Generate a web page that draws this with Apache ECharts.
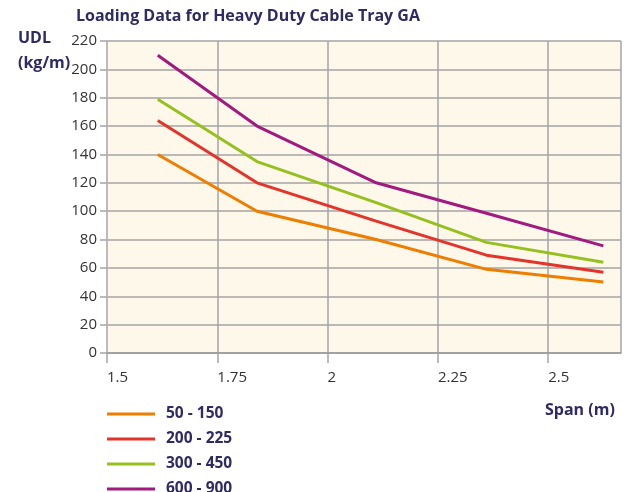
<!DOCTYPE html>
<html>
<head>
<meta charset="utf-8">
<script src="https://cdn.jsdelivr.net/npm/echarts@6/dist/echarts.min.js"></script>
<style>
  html, body { margin: 0; padding: 0; background: #ffffff; }
  #chart { width: 624px; height: 492px; }
</style>
</head>
<body>
<div id="chart"></div>
<script>
// Span (m) at which each load is given
const spans = [1.615, 1.84, 2.11, 2.36, 2.625];

// Uniformly distributed load (kg/m) per tray width range
const udl_50_150  = [140, 100, 80, 59, 50];
const udl_200_225 = [164, 120, 93, 69, 57];
const udl_300_450 = [179, 135, 106, 78, 64];
const udl_600_900 = [210, 160, 120, 98.5, 75.5];

const seriesNames = ['50 - 150', '200 - 225', '300 - 450', '600 - 900'];
const seriesValues = [udl_50_150, udl_200_225, udl_300_450, udl_600_900];
const seriesColors = ['#ef7d00', '#e5332a', '#95c11f', '#a2197f'];

const navy = '#2e2a63';
const fontFamily = '"Open Sans", "DejaVu Sans", sans-serif';

const chart = echarts.init(document.getElementById('chart'), null, { renderer: 'canvas' });

const option = {
  backgroundColor: '#ffffff',
  animation: false,
  title: [
    {
      text: 'Loading Data for Heavy Duty Cable Tray GA',
      left: 76, top: 8, padding: 0,
      textStyle: { color: navy, fontFamily, fontWeight: 'bold', fontSize: 16 }
    },
    {
      text: 'UDL\n(kg/m)',
      left: 18, top: 26, padding: 0,
      textStyle: { color: navy, fontFamily, fontWeight: 'bold', fontSize: 16, lineHeight: 25 }
    },
    {
      text: 'Span (m)',
      left: 545, top: 402, padding: 0,
      textStyle: { color: navy, fontFamily, fontWeight: 'bold', fontSize: 16 }
    }
  ],
  legend: {
    orient: 'vertical',
    left: 107, top: 404, height: 120,
    padding: 0,
    itemWidth: 48, itemHeight: 3,
    itemGap: 5,
    icon: 'rect',
    data: seriesNames,
    textStyle: {
      color: navy, fontFamily, fontWeight: 'bold', fontSize: 15.5,
      lineHeight: 20, padding: [0, 0, 0, 6]
    }
  },
  grid: {
    left: 107, top: 41, right: 3, bottom: 139,
    show: true, backgroundColor: '#fef8ea', borderWidth: 0
  },
  xAxis: {
    type: 'value',
    min: 1.5, max: 2.665, interval: 0.25,
    axisLine: { show: true, lineStyle: { color: '#9a9a9a', width: 1.5 } },
    axisTick: { show: true, length: 10, lineStyle: { color: '#a5a5a5', width: 1.5 } },
    splitLine: { show: true, lineStyle: { color: '#a5a5a5', width: 1.5 } },
    axisLabel: {
      showMaxLabel: false,
      align: 'left', margin: 17,
      color: '#333333', fontFamily, fontSize: 15
    }
  },
  yAxis: {
    type: 'value',
    min: 0, max: 220, interval: 20,
    axisLine: { show: true, lineStyle: { color: '#bdbdbd', width: 1.5 } },
    axisTick: { show: true, length: 7, lineStyle: { color: '#a5a5a5', width: 1.5 } },
    splitLine: { show: true, lineStyle: { color: '#a5a5a5', width: 1.5 } },
    axisLabel: { margin: 10, padding: [4, 0, 0, 0], color: '#333333', fontFamily, fontSize: 15 }
  },
  series: seriesNames.map((name, i) => ({
    name,
    type: 'line',
    data: spans.map((s, j) => [s, seriesValues[i][j]]),
    showSymbol: false,
    symbol: 'none',
    color: seriesColors[i],
    lineStyle: { color: seriesColors[i], width: 3 },
    z: 3 + i
  }))
};

chart.setOption(option);
</script>
</body>
</html>
